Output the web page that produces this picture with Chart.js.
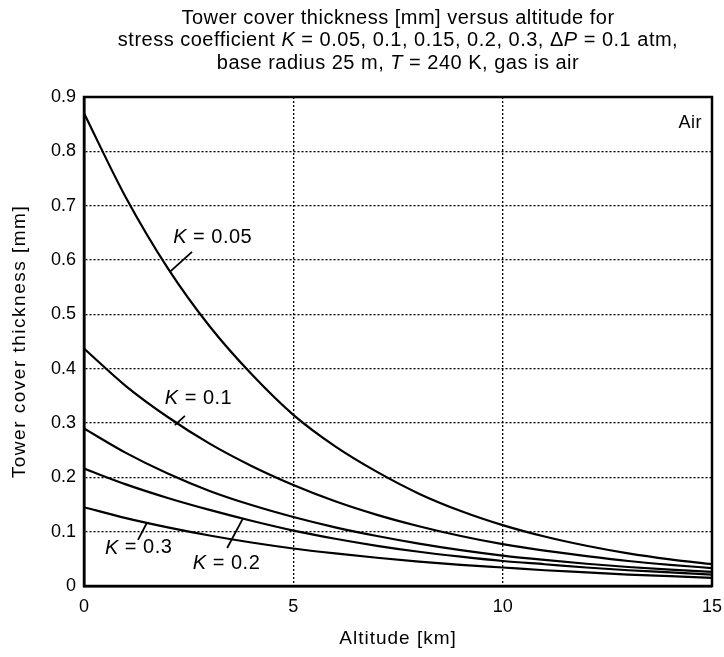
<!DOCTYPE html>
<html>
<head>
<meta charset="utf-8">
<script src="https://cdn.jsdelivr.net/npm/chart.js@4.4.1/dist/chart.umd.min.js"></script>
<style>
html,body{margin:0;padding:0;background:#fff;}
#wrap{width:724px;height:657px;}
</style>
</head>
<body>
<div id="wrap"><canvas id="c" width="724" height="657"></canvas></div>
<script>
// Altitude [km]
const altitude = [0,1,2,3,4,5,6,7,8,9,10,11,12,13,14,15];
// Tower cover thickness [mm] for each stress coefficient K
const thickK005 = [0.870,0.715,0.585,0.478,0.390,0.315,0.257,0.210,0.170,0.138,0.112,0.091,0.074,0.060,0.049,0.040];
const thickK01  = [0.437,0.368,0.311,0.262,0.221,0.186,0.156,0.131,0.110,0.092,0.077,0.065,0.055,0.046,0.039,0.033];
const thickK015 = [0.290,0.245,0.207,0.175,0.149,0.127,0.108,0.092,0.078,0.066,0.056,0.048,0.041,0.035,0.030,0.026];
const thickK02  = [0.216,0.187,0.162,0.140,0.120,0.102,0.087,0.074,0.063,0.054,0.046,0.040,0.034,0.029,0.025,0.021];
const thickK03  = [0.145,0.125,0.108,0.093,0.080,0.069,0.060,0.052,0.045,0.039,0.034,0.029,0.025,0.021,0.018,0.015];
const seriesNames = ["K = 0.05","K = 0.1","K = 0.15","K = 0.2","K = 0.3"];
const xTicks = [0,5,10,15];
const yTicks = [0,0.1,0.2,0.3,0.4,0.5,0.6,0.7,0.8,0.9];

const titleLines = [
  [["Tower cover thickness [mm] versus altitude for", false]],
  [["stress coefficient ", false],["K", true],[" = 0.05, 0.1, 0.15, 0.2, 0.3, \u0394", false],["P", true],[" = 0.1 atm,", false]],
  [["base radius 25 m, ", false],["T", true],[" = 240 K, gas is air", false]]
];
const xTitle = "Altitude [km]";
const yTitle = "Tower cover thickness [mm]";

// curve labels: text anchor (data units) and leader line (data units)
const curveLabels = [
  {label:"0.05", tx:2.13, ty:0.642, l:[2.58,0.615,2.05,0.578]},
  {label:"0.1",  tx:1.93, ty:0.346, l:[2.41,0.313,2.17,0.296]},
  {label:"0.3",  tx:0.50, ty:0.070, l:[1.50,0.116,1.29,0.085]},
  {label:"0.2",  tx:2.60, ty:0.042, l:[3.80,0.125,3.42,0.070]}
];
const gasLabel = {text:"Air", x:14.76, y:0.852};

const FONT = '"Liberation Sans", Arial, Helvetica, sans-serif';

function pts(ys){ return altitude.map((x,i)=>({x:x,y:ys[i]})); }
const allSeries = [thickK005, thickK01, thickK015, thickK02, thickK03];

function segWidth(ctx, segs, size){
  let w = 0;
  segs.forEach(s=>{ ctx.font = (s[1]?'italic ':'') + size + 'px ' + FONT; w += ctx.measureText(s[0]).width; });
  return w;
}
function drawRichLeft(ctx, segs, x, cy, size){
  ctx.textAlign = 'left'; ctx.textBaseline = 'middle';
  segs.forEach(s=>{ ctx.font = (s[1]?'italic ':'') + size + 'px ' + FONT; ctx.fillText(s[0], x, cy); x += ctx.measureText(s[0]).width; });
}
function drawRich(ctx, segs, cx, cy, size){
  drawRichLeft(ctx, segs, cx - segWidth(ctx, segs, size)/2, cy, size);
}

const decor = {
  id:'decor',
  afterDraw(chart){
    const ctx = chart.ctx, a = chart.chartArea, xs = chart.scales.x, ys = chart.scales.y;
    ctx.save();
    ctx.fillStyle = '#000'; ctx.strokeStyle = '#000';
    // frame
    ctx.lineWidth = 2.5;
    ctx.strokeRect(a.left, a.top, a.right - a.left, a.bottom - a.top);
    // title
    const cx = (a.left + a.right)/2;
    ctx.letterSpacing = '0.5px';
    titleLines.forEach((ln,i)=> drawRich(ctx, ln, cx, 18 + i*22.5, 20));
    // axis titles
    ctx.letterSpacing = '1px';
    ctx.font = '19px ' + FONT; ctx.textAlign = 'center'; ctx.textBaseline = 'middle';
    ctx.fillText(xTitle, cx, 639);
    ctx.save();
    ctx.letterSpacing = '1.5px';
    ctx.translate(20, (a.top + a.bottom)/2);
    ctx.rotate(-Math.PI/2);
    ctx.fillText(yTitle, 0, 0);
    ctx.restore();
    // curve labels
    ctx.letterSpacing = '0.5px';
    ctx.lineWidth = 1.8;
    curveLabels.forEach(c=>{
      drawRichLeft(ctx, [["K", true],[" = " + c.label, false]], xs.getPixelForValue(c.tx), ys.getPixelForValue(c.ty), 20);
      ctx.beginPath();
      ctx.moveTo(xs.getPixelForValue(c.l[0]), ys.getPixelForValue(c.l[1]));
      ctx.lineTo(xs.getPixelForValue(c.l[2]), ys.getPixelForValue(c.l[3]));
      ctx.stroke();
    });
    ctx.font = '18px ' + FONT; ctx.textAlign = 'right'; ctx.textBaseline = 'middle';
    ctx.fillText(gasLabel.text, xs.getPixelForValue(gasLabel.x), ys.getPixelForValue(gasLabel.y));
    ctx.restore();
  }
};

new Chart(document.getElementById('c'), {
  type:'line',
  data:{
    datasets: allSeries.map((s,i)=>({
      label: seriesNames[i],
      data: pts(s),
      borderColor:'#000',
      borderWidth:2.2,
      pointRadius:0,
      cubicInterpolationMode:'monotone',
      fill:false
    }))
  },
  options:{
    responsive:false,
    animation:false,
    events:[],
    layout:{padding:{top:97, right:12, left:0, bottom:0}},
    plugins:{legend:{display:false}, title:{display:false}, tooltip:{enabled:false}},
    scales:{
      x:{
        type:'linear', min:0, max:15,
        afterBuildTicks(scale){ scale.ticks = xTicks.map(v=>({value:v})); },
        afterFit(scale){ scale.height = 71; scale.paddingRight = 0; scale.paddingLeft = 0; },
        ticks:{color:'#000', font:{family:FONT, size:18}, padding:10, maxRotation:0,
               callback:(v)=>String(v)},
        grid:{color:'#000', lineWidth:1.3, drawTicks:false},
        border:{display:true, color:'#000', width:2.5, dash:[2,2]}
      },
      y:{
        type:'linear', min:0, max:0.9,
        afterBuildTicks(scale){ scale.ticks = yTicks.map(v=>({value:v})); },
        afterFit(scale){ scale.width = 84; scale.paddingTop = 0; scale.paddingBottom = 0; },
        ticks:{color:'#000', font:{family:FONT, size:18}, padding:8,
               callback:(v)=> v===0 ? '0' : (+v).toFixed(1)},
        grid:{color:'#000', lineWidth:1.3, drawTicks:false},
        border:{display:true, color:'#000', width:2.5, dash:[2,2]}
      }
    }
  },
  plugins:[decor]
});
</script>
</body>
</html>
